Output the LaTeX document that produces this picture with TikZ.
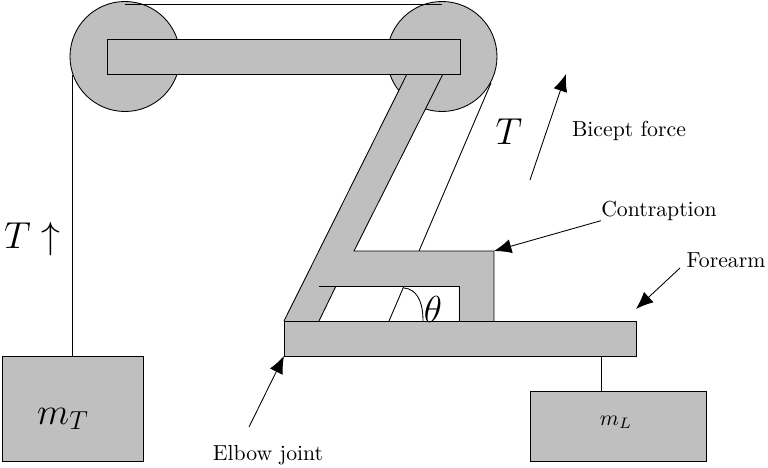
\documentclass[tikz,border=0pt]{standalone}
\usetikzlibrary{arrows.meta}
\definecolor{partgray}{gray}{0.75}
\tikzset{
    part/.style={draw, fill=partgray, line width=.4pt},
    rope/.style={draw, line width=.4pt},
    force/.style={draw, line width=.4pt, -{Latex[length=8pt,width=6.5pt]}},
    lbl/.style={inner sep=0pt}
}
\begin{document}
\begin{tikzpicture}[x=.46pt,y=-.46pt]
        \useasboundingbox (0,0) rectangle (768,468);
        \begin{scope}
            % pulleys
            \draw [part] (125,56.5) circle (55);
            \draw [part] (442,56.5) circle (55);

            % rope
            \draw [rope] (125,4.5) -- (442,4.5);
            \draw [rope] (72,75) -- (72,356);
            \draw [rope] (491,83) -- (419,251);
            \draw [rope] (389,321) -- (404,286);
            \draw [rope] (601,356) -- (601,391);

            % upper arm and contraption
            \fill [partgray] (284,321) -- (407,74) -- (443,74) -- (354,251) -- (494,251)
                -- (494,321) -- (459,321) -- (459,286) -- (336,286) -- (319,321) -- cycle;
            \draw [line width=.4pt] (319,321) -- (336,286);
            \draw [line width=.4pt] (284,321) -- (407,74);
            \draw [line width=.4pt] (443,74) -- (354,251) -- (494,251) -- (494,321);
            \draw [line width=.4pt] (459,321) -- (459,286) -- (319,286);

            % bars
            \draw [part] (107,39) rectangle (460,74);
            \draw [part] (284,321) rectangle (636,356);

            % masses
            \node [part, lbl, minimum width=64.9pt, minimum height=48.3pt] (massT) at (72.5,408.5) {};
            \node [part, lbl, minimum width=81pt, minimum height=32.2pt] (massL) at (618,426) {};
            \node [lbl] at (63,419) {\LARGE $m_T$};
            \node [lbl] at (616,422) {$m_L$};

            % angle
            \draw [rope] (404,288) .. controls (416,289) and (423,300) .. (423,321);
            \node [lbl] at (433,309) {\LARGE $\theta$};

            % labels
            \node [lbl] at (509,132) {\fontsize{18}{20}\selectfont $T$};
            \node [lbl] at (32,239) {\fontsize{18}{20}\selectfont $T\uparrow$};
            \node [lbl] (bicept) at (629,130.5) {Bicept force};
            \node [lbl] (contraption) at (659,210.5) {Contraption};
            \node [lbl] (forearm) at (726,260) {Forearm};
            \node [lbl] (elbow) at (268,455) {Elbow joint};

            % arrows
            \coordinate (bicepttail) at (530,180);
            \coordinate (biceptend) at (566,74);
            \coordinate (contractend) at (494,251);
            \coordinate (foretail) at (680,268);
            \coordinate (foreend) at (636,309);
            \coordinate (elbowtail) at (249,427);
            \coordinate (elbowend) at (284,356);
            \draw [force] (bicepttail) -- (biceptend);
            \draw [force] (contraption.south west) -- (contractend);
            \draw [force] (foretail) -- (foreend);
            \draw [force] (elbowtail) -- (elbowend);
        \end{scope}
    \end{tikzpicture}
\end{document}
